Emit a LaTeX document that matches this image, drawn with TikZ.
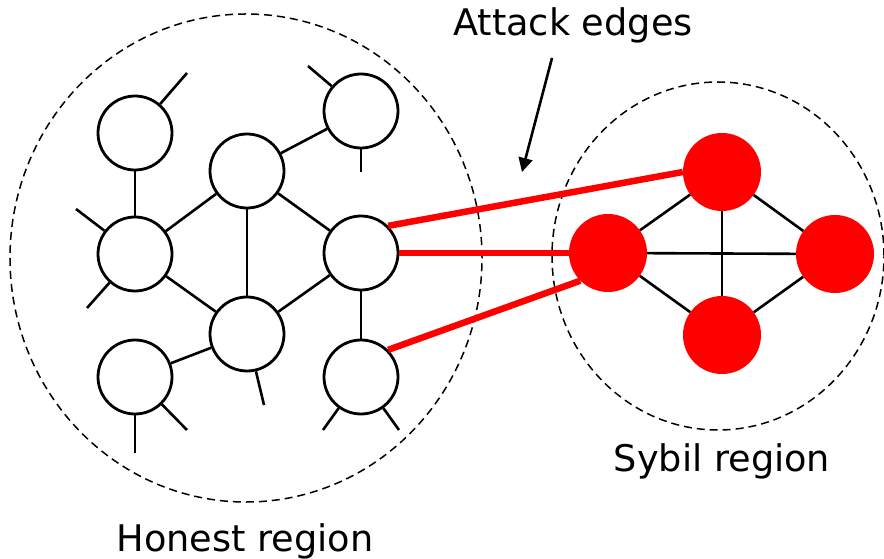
\documentclass[tikz,border=0pt]{standalone}
\usepackage{fontspec}
\setmainfont{DejaVu Sans}
\usetikzlibrary{arrows.meta}

\begin{document}
\begin{tikzpicture}[x=1bp, y=-1bp,
  honest/.style={circle, draw, line width=2.8bp, minimum size=74bp, inner sep=0pt},
  sybil/.style={circle, fill=red, minimum size=78bp, inner sep=0pt},
  edge/.style={line width=2.6bp},
  attack/.style={red, line width=6.5bp},
  region/.style={dash pattern=on 8bp off 5bp, line width=1.5bp},
  regionlabel/.style={anchor=base, font=\fontsize{36.8}{44}\selectfont}]

\useasboundingbox (0,0) rectangle (884,559);

% regions
\draw[region] (246,258) ellipse [x radius=236bp, y radius=244bp];
\draw[region] (718,256) ellipse [x radius=166bp, y radius=174bp];

% honest nodes
\node[honest] (h1) at (135,133) {};
\node[honest] (h2) at (247,171) {};
\node[honest] (h3) at (361,111) {};
\node[honest] (h4) at (135,254) {};
\node[honest] (h5) at (361,253) {};
\node[honest] (h6) at (247,334) {};
\node[honest] (h7) at (135,377) {};
\node[honest] (h8) at (361,377) {};

% sybil nodes
\node[sybil] (s1) at (722,172) {};
\node[sybil] (s2) at (608,253) {};
\node[sybil] (s3) at (835,254) {};
\node[sybil] (s4) at (722,335) {};

% honest edges
\draw[edge] (h1) -- (h4);
\draw[edge] (h2) -- (h4);
\draw[edge] (h2) -- (h3);
\draw[edge] (h2) -- (h5);
\draw[edge] (h2) -- (h6);
\draw[edge] (h4) -- (h6);
\draw[edge] (h5) -- (h6);
\draw[edge] (h5) -- (h8);
\draw[edge] (h6) -- (h7);

% loose ends
\coordinate (h1a) at (187,73);
\coordinate (h3a) at (308,66);
\coordinate (h3b) at (361,172);
\coordinate (h4a) at (76,209);
\coordinate (h4b) at (87,308);
\coordinate (h6a) at (264,405);
\coordinate (h7a) at (135,453);
\coordinate (h7b) at (187,430);
\coordinate (h8a) at (323,430);
\coordinate (h8b) at (399,430);
\draw[edge] (h1) -- (h1a);
\draw[edge] (h3) -- (h3a);
\draw[edge] (h3) -- (h3b);
\draw[edge] (h4) -- (h4a);
\draw[edge] (h4) -- (h4b);
\draw[edge] (h6) -- (h6a);
\draw[edge] (h7) -- (h7a);
\draw[edge] (h7) -- (h7b);
\draw[edge] (h8) -- (h8a);
\draw[edge] (h8) -- (h8b);

% sybil edges
\draw[edge] (s1) -- (s2);
\draw[edge] (s1) -- (s3);
\draw[edge] (s1) -- (s4);
\draw[edge] (s2) -- (s3);
\draw[edge] (s2) -- (s4);
\draw[edge] (s3) -- (s4);

% attack edges
\draw[attack] (h5.north east) -- (s1.west);
\draw[attack] (h5.east) -- (s2.west);
\draw[attack] (h8.north east) -- (s2.south west);

% labels
\node[regionlabel] (atk) at (573,36) {Attack edges};
\node[regionlabel] (hon) at (245,551) {Honest region};
\node[regionlabel] (syb) at (722,471) {Sybil region};

\coordinate (tail) at (552,58);
\coordinate (tip) at (522,172);
\draw[edge, -{Triangle[length=14bp,width=14bp]}] (tail) -- (tip);

\end{tikzpicture}
\end{document}
